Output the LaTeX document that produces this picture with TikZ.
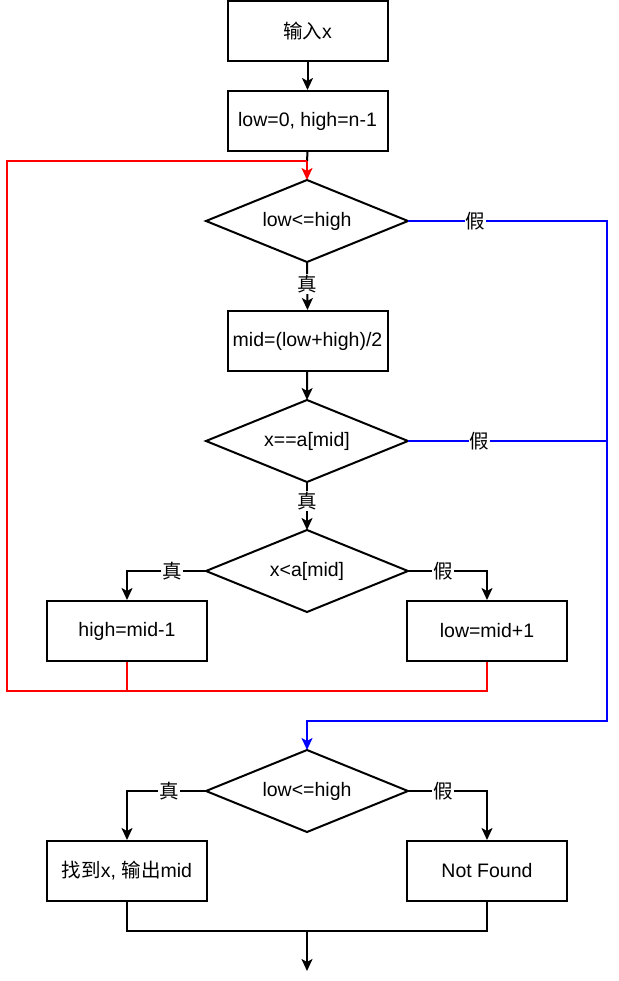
\documentclass[tikz,border=0pt]{standalone}
\usepackage{fontspec}
\setmainfont{Liberation Sans}
\newfontfamily\cjk{Noto Sans CJK SC}
\usetikzlibrary{arrows.meta}
\newcommand\myfs{\fontsize{19.5pt}{23pt}\selectfont}
\begin{document}
\begin{tikzpicture}[x=1pt,y=-1pt,
  every node/.style={font=\myfs},
  line width=2pt,
  proc/.style={draw=black,line width=2pt,minimum width=160pt,minimum height=60pt,inner sep=0pt},
  dec/.style={minimum width=200pt,minimum height=80pt,inner sep=0pt},
  decline/.style={draw=black,line width=2pt,line join=miter},
  arr/.style={-{Stealth[length=12pt,width=11pt,inset=3pt]}},
  lbl/.style={fill=white,text=black,inner sep=1pt,font=\myfs\cjk}]
\useasboundingbox (0,0) rectangle (618,981);
\node[proc] (a) at (307.5,31.5) {{\cjk 输入}x};
\node[proc] (b) at (307.5,121) {low=0, high=n-1};
\node[dec] (d1) at (307,221) {low<=high};
\node[proc] (m) at (307.5,341) {mid=(low+high)/2};
\node[dec] (d2) at (307,441) {x==a[mid]};
\node[dec] (d3) at (307,571) {x<a[mid]};
\node[proc] (h) at (127,631) {high=mid-1};
\node[proc] (l) at (487,631) {low=mid+1};
\node[dec] (d4) at (307,791) {low<=high};
\node[proc] (f) at (127,871) {{\cjk 找到}x, {\cjk 输出}mid};
\node[proc] (nf) at (487,871) {Not Found};
\foreach \d in {d1,d2,d3,d4}
  \draw[decline] (\d.north) -- (\d.east) -- (\d.south) -- (\d.west) -- cycle;
\coordinate (j1) at (307,161);
\coordinate (rb) at (7,691);
\coordinate (bR) at (607,721);
\coordinate (jb) at (307,931);
\coordinate (endc) at (307,971);
\draw[arr] (a) -- (b);
\draw (b.south) -- (j1);
\draw[red] (h.south) |- (rb) |- (j1);
\draw[red] (l.south) |- (h.south |- rb);
\draw[red,arr] (j1) -- (d1.north);
\draw[arr] (d1.south) -- node[lbl,pos=0.45]{真} (m.north);
\draw[arr] (m) -- (d2.north);
\draw[arr] (d2.south) -- node[lbl,pos=0.4]{真} (d3.north);
\draw[arr] (d3.west) -- node[lbl,pos=0.43]{真} (d3.west -| h) -- (h.north);
\draw[arr] (d3.east) -- node[lbl,pos=0.44]{假} (d3.east -| l) -- (l.north);
\draw[blue,arr] (d1.east) -- node[lbl,pos=0.34]{假} (d1.east -| bR) -- (bR) -| (d4.north);
\draw[blue] (d2.east) -- node[lbl,pos=0.36]{假} (d2.east -| bR);
\draw[arr] (d4.west) -- node[lbl,pos=0.47]{真} (d4.west -| f) -- (f.north);
\draw[arr] (d4.east) -- node[lbl,pos=0.44]{假} (d4.east -| nf) -- (nf.north);
\draw (f.south) |- (jb) -| (nf.south);
\draw[arr] (jb) -- (endc);
\end{tikzpicture}
\end{document}
